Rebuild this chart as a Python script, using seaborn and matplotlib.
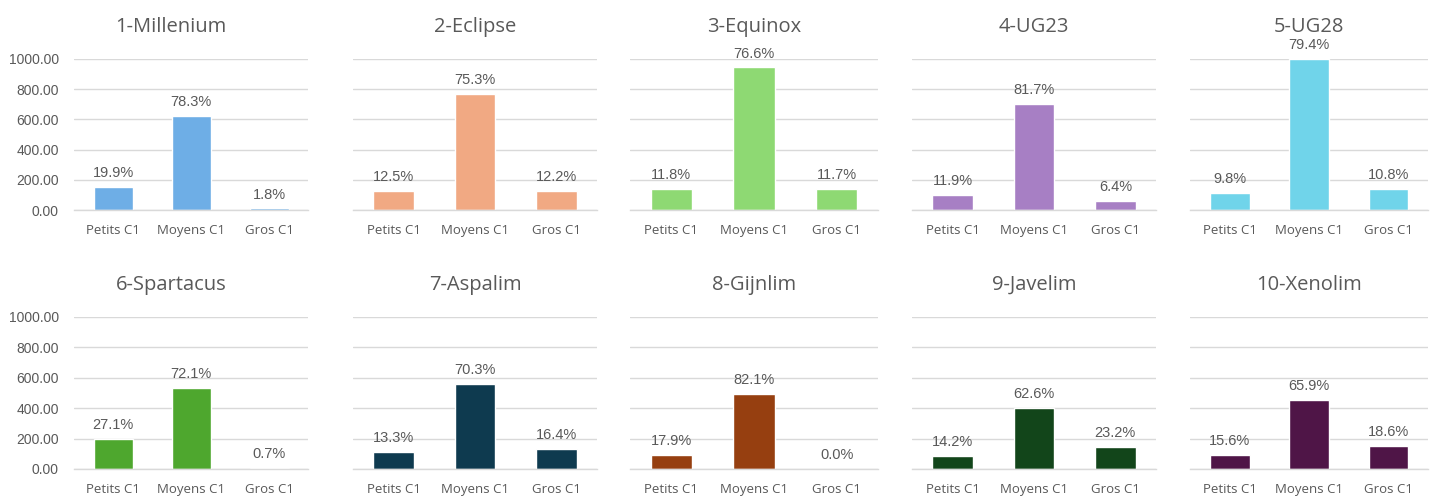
import matplotlib
matplotlib.use("Agg")
import matplotlib.pyplot as plt
import seaborn as sns
import pandas as pd

# Données
titres = ["1-Millenium", "2-Eclipse", "3-Equinox", "4-UG23", "5-UG28",
          "6-Spartacus", "7-Aspalim", "8-Gijnlim", "9-Javelim", "10-Xenolim"]
categories = ["Petits C1", "Moyens C1", "Gros C1"]

millenium = [150, 622, 10]
eclipse = [125, 770, 125]
equinox = [139, 944, 139]
ug23 = [102, 703, 58]
ug28 = [114, 998, 141]
spartacus = [199, 533, 5]
aspalim = [110, 560, 129]
gijnlim = [95, 494, 0]
javelim = [84, 401, 144]
xenolim = [95, 453, 153]

pct_millenium = ["19.9%", "78.3%", "1.8%"]
pct_eclipse = ["12.5%", "75.3%", "12.2%"]
pct_equinox = ["11.8%", "76.6%", "11.7%"]
pct_ug23 = ["11.9%", "81.7%", "6.4%"]
pct_ug28 = ["9.8%", "79.4%", "10.8%"]
pct_spartacus = ["27.1%", "72.1%", "0.7%"]
pct_aspalim = ["13.3%", "70.3%", "16.4%"]
pct_gijnlim = ["17.9%", "82.1%", "0.0%"]
pct_javelim = ["14.2%", "62.6%", "23.2%"]
pct_xenolim = ["15.6%", "65.9%", "18.6%"]

couleurs = ["#6EAEE6", "#F1A983", "#8ED973", "#A77FC4", "#70D4EA",
            "#4EA72E", "#0E3A4F", "#963F10", "#12451A", "#4F1547"]

valeurs = [millenium, eclipse, equinox, ug23, ug28,
           spartacus, aspalim, gijnlim, javelim, xenolim]
pourcentages = [pct_millenium, pct_eclipse, pct_equinox, pct_ug23, pct_ug28,
                pct_spartacus, pct_aspalim, pct_gijnlim, pct_javelim, pct_xenolim]

sns.set_theme(style="white")
plt.rcParams["font.family"] = ["Liberation Sans", "DejaVu Sans"]

W, H = 1431, 496
fig = plt.figure(figsize=(W / 100, H / 100), dpi=100)

# zones de tracé (pixels): gauche, droite ; haut, bas par ligne
cols = [(74, 308), (353, 597), (630, 878), (912, 1156), (1190, 1428)]
rows = [(59, 210), (317, 469)]

grille = "#D9D9D9"
gris_txt = "#595959"

for i in range(10):
    r, c = divmod(i, 5)
    x0, x1 = cols[c]
    y0, y1 = rows[r]
    ax = fig.add_axes([x0 / W, 1 - y1 / H, (x1 - x0) / W, (y1 - y0) / H])
    df = pd.DataFrame({"cat": categories, "val": valeurs[i]})
    sns.barplot(data=df, x="cat", y="val", color=couleurs[i], width=0.5,
                saturation=1, ax=ax)
    ax.set_ylim(0, 1000)
    ax.set_xlim(-0.5, 2.5)
    ax.set_yticks([0, 200, 400, 600, 800, 1000])
    ax.yaxis.grid(True, color=grille, linewidth=1)
    ax.set_axisbelow(True)
    for s in ["top", "right", "left"]:
        ax.spines[s].set_visible(False)
    ax.spines["bottom"].set_color(grille)
    ax.spines["bottom"].set_linewidth(1)
    ax.set_xlabel("")
    ax.set_ylabel("")
    ax.set_xticks([-0.5, 0.5, 1.5, 2.5], minor=True)
    ax.tick_params(axis="x", which="minor", length=4, color=grille, width=1)
    ax.tick_params(axis="x", which="major", length=0, pad=10,
                   labelsize=9.5, labelcolor=gris_txt)
    for lab in ax.get_xticklabels():
        lab.set_family(["Open Sans", "DejaVu Sans"])
    if c == 0:
        ax.set_yticklabels([f"{v:.2f}" for v in ax.get_yticks()])
        ax.tick_params(axis="y", length=0, pad=11, labelsize=10, labelcolor=gris_txt)
        x_titre = 0.415
    else:
        ax.tick_params(axis="y", length=0, labelleft=False)
        x_titre = 0.5
    ax.bar_label(ax.containers[0], labels=pourcentages[i], padding=5,
                 fontsize=10.5, color=gris_txt)
    ax.set_title(titres[i], fontsize=14.5, color=gris_txt, pad=19.5, x=x_titre,
                 family=["Open Sans", "DejaVu Sans"])

fig.savefig("out.png", dpi=100)
